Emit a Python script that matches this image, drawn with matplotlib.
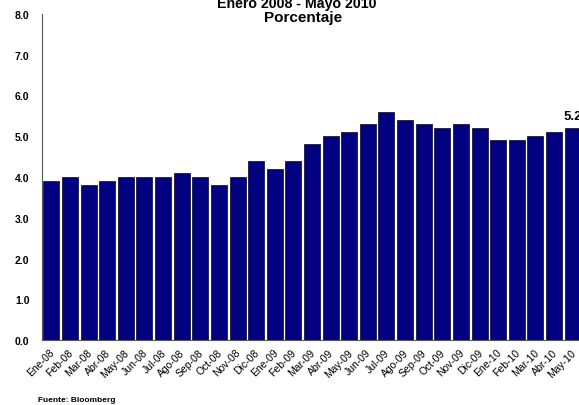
import matplotlib.pyplot as plt
from matplotlib.transforms import ScaledTranslation

plt.rcParams['font.family'] = ['Liberation Sans', 'DejaVu Sans']

months = ["Ene-08", "Feb-08", "Mar-08", "Abr-08", "May-08", "Jun-08", "Jul-08", "Ago-08",
          "Sep-08", "Oct-08", "Nov-08", "Dic-08", "Ene-09", "Feb-09", "Mar-09", "Abr-09",
          "May-09", "Jun-09", "Jul-09", "Ago-09", "Sep-09", "Oct-09", "Nov-09", "Dic-09",
          "Ene-10", "Feb-10", "Mar-10", "Abr-10", "May-10"]
values = [3.9, 4.0, 3.8, 3.9, 4.0, 4.0, 4.0, 4.1, 4.0, 3.8, 4.0, 4.4, 4.2, 4.4, 4.8, 5.0,
          5.1, 5.3, 5.6, 5.4, 5.3, 5.2, 5.3, 5.2, 4.9, 4.9, 5.0, 5.1, 5.2]
yticks = [0, 1, 2, 3, 4, 5, 6, 7, 8]

fig = plt.figure(figsize=(5.79, 4.06), dpi=100)
ax = fig.add_axes([42 / 579, 1 - 341 / 406, 540 / 579, (341 - 15) / 406])

x = range(len(months))
ax.bar(x, values, width=0.86, color='#000080', edgecolor='#1a1a40', linewidth=0.6)
ax.set_xlim(-0.5, len(months) - 0.5)
ax.set_ylim(0, 8)
ax.set_yticks(yticks)
ax.set_yticklabels([f"{v:.1f}" for v in yticks], fontsize=7.5, fontweight='bold')
ax.set_xticks(list(x))
ax.set_xticklabels(months, rotation=45, ha='right', rotation_mode='anchor', fontsize=7.5)
ax.tick_params(axis='y', length=0, pad=9)
ax.tick_params(axis='x', length=0, pad=5)
shift = ScaledTranslation(-2 / 100, 0, fig.dpi_scale_trans)
for lab in ax.get_xticklabels():
    lab.set_transform(lab.get_transform() + shift)
for s in ['top', 'right']:
    ax.spines[s].set_visible(False)
ax.spines['left'].set_color('#555555')
ax.spines['bottom'].set_color('#555555')

ax.text(len(months) - 1, values[-1] + 0.15, f"{values[-1]:.1f}", ha='center', va='bottom',
        fontsize=9.5, fontweight='bold')

fig.text(297 / 579, 1 - 4 / 406, "Enero 2008 - Mayo 2010", ha='center', va='center',
         fontsize=10.2, fontweight='bold')
fig.text(303 / 579, 1 - 18 / 406, "Porcentaje", ha='center', va='center',
         fontsize=11, fontweight='bold')
fig.text(38 / 579, 1 - 401 / 406, "Fuente: Bloomberg", ha='left', va='center',
         fontsize=6, fontweight='bold')

fig.savefig('out.png', dpi=100)
